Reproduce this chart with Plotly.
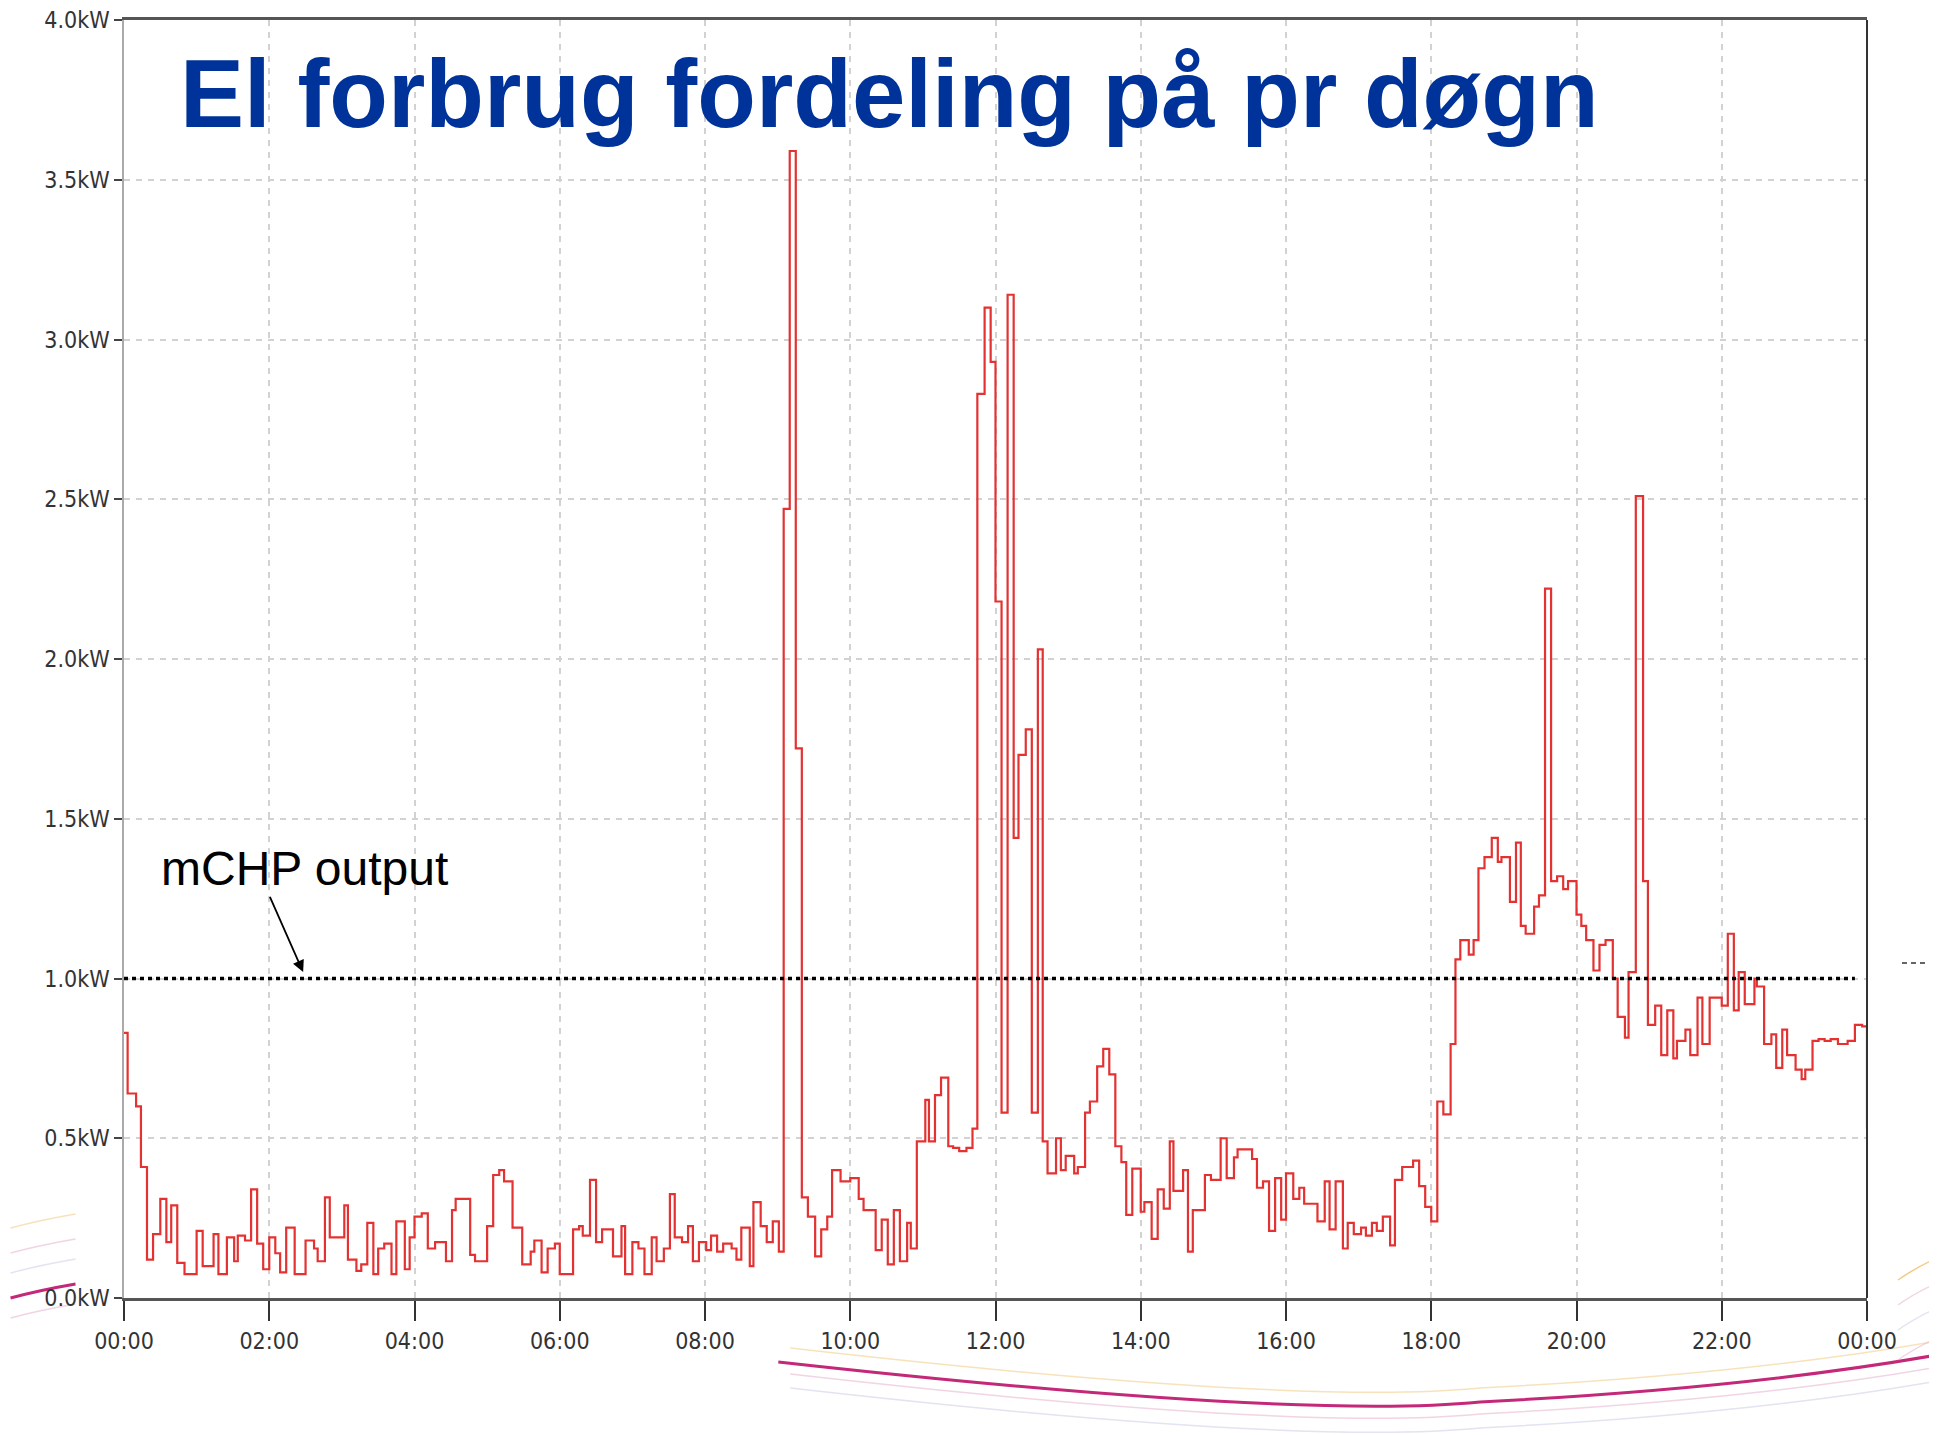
import pandas as pd
import plotly.graph_objects as go

# ---------------- data ----------------
# change points of the stepped consumption curve: minute of the day and kW
minutes = [
    0, 3, 10, 14, 19, 24, 30, 35, 39, 44, 50, 60, 65, 74, 78, 85, 91, 94, 100, 105,
    110, 115, 120, 125, 129, 134, 141, 150, 157, 160, 166, 170, 182, 185, 192, 196, 201, 206, 210, 215,
    221, 225, 232, 236, 240, 246, 251, 257, 266, 271, 274, 286, 290, 300, 305, 310, 314, 321, 329, 336,
    339, 345, 350, 356, 360, 371, 376, 379, 385, 390, 395, 404, 411, 414, 420, 425, 430, 436, 440, 446,
    451, 455, 461, 466, 470, 475, 481, 485, 490, 495, 502, 506, 510, 517, 520, 526, 531, 536, 541, 545,
    550, 555, 560, 565, 571, 576, 581, 585, 592, 600, 607, 611, 621, 626, 631, 636, 641, 647, 650, 655,
    662, 665, 670, 675, 681, 685, 690, 696, 701, 705, 711, 716, 720, 725, 730, 735, 739, 745, 750, 755,
    759, 763, 770, 774, 778, 785, 788, 794, 798, 804, 809, 814, 819, 824, 828, 833, 840, 843, 849, 854,
    859, 864, 867, 875, 879, 883, 893, 898, 906, 911, 917, 920, 932, 936, 941, 946, 951, 956, 960, 966,
    971, 975, 986, 992, 996, 1001, 1007, 1011, 1016, 1022, 1026, 1031, 1035, 1040, 1046, 1050, 1056, 1065, 1070, 1075,
    1080, 1085, 1090, 1096, 1100, 1104, 1111, 1115, 1119, 1124, 1130, 1135, 1138, 1145, 1150, 1154, 1158, 1165, 1169, 1174,
    1179, 1184, 1189, 1193, 1200, 1204, 1208, 1214, 1219, 1224, 1230, 1234, 1240, 1243, 1249, 1255, 1259, 1265, 1270, 1275,
    1280, 1283, 1290, 1294, 1300, 1304, 1310, 1320, 1325, 1330, 1334, 1339, 1347, 1349, 1355, 1361, 1365, 1370, 1374, 1381,
    1386, 1389, 1395, 1400, 1405, 1410, 1416, 1424, 1430, 1436, 1440,
]
kw = [
    0.83, 0.64, 0.60, 0.41, 0.12, 0.20, 0.31, 0.175, 0.29, 0.11, 0.075, 0.21, 0.10, 0.20, 0.075, 0.19, 0.115, 0.195, 0.18, 0.34,
    0.17, 0.09, 0.19, 0.14, 0.08, 0.22, 0.075, 0.18, 0.155, 0.115, 0.315, 0.19, 0.29, 0.12, 0.085, 0.105, 0.235, 0.075, 0.155, 0.17,
    0.075, 0.24, 0.09, 0.19, 0.255, 0.265, 0.155, 0.175, 0.115, 0.275, 0.31, 0.135, 0.115, 0.225, 0.385, 0.40, 0.365, 0.22, 0.105, 0.145,
    0.18, 0.08, 0.155, 0.17, 0.075, 0.215, 0.225, 0.195, 0.37, 0.175, 0.215, 0.13, 0.225, 0.075, 0.175, 0.155, 0.075, 0.19, 0.115, 0.155,
    0.325, 0.19, 0.175, 0.225, 0.115, 0.175, 0.15, 0.195, 0.145, 0.17, 0.155, 0.12, 0.22, 0.10, 0.30, 0.225, 0.175, 0.24, 0.145, 2.47,
    3.59, 1.72, 0.315, 0.255, 0.13, 0.215, 0.255, 0.40, 0.365, 0.375, 0.31, 0.275, 0.15, 0.245, 0.105, 0.275, 0.115, 0.235, 0.155, 0.49,
    0.62, 0.49, 0.635, 0.69, 0.475, 0.47, 0.46, 0.47, 0.53, 2.83, 3.10, 2.93, 2.18, 0.58, 3.14, 1.44, 1.70, 1.78, 0.58, 2.03,
    0.49, 0.39, 0.50, 0.40, 0.445, 0.39, 0.41, 0.58, 0.615, 0.725, 0.78, 0.70, 0.475, 0.425, 0.26, 0.405, 0.27, 0.30, 0.185, 0.34,
    0.28, 0.49, 0.335, 0.40, 0.145, 0.275, 0.385, 0.37, 0.50, 0.375, 0.44, 0.465, 0.435, 0.345, 0.365, 0.21, 0.375, 0.245, 0.39, 0.31,
    0.345, 0.295, 0.24, 0.365, 0.215, 0.365, 0.155, 0.235, 0.20, 0.22, 0.195, 0.235, 0.21, 0.255, 0.165, 0.37, 0.41, 0.43, 0.35, 0.285,
    0.24, 0.615, 0.575, 0.795, 1.06, 1.12, 1.075, 1.12, 1.345, 1.38, 1.44, 1.365, 1.38, 1.24, 1.425, 1.165, 1.14, 1.225, 1.26, 2.22,
    1.305, 1.32, 1.28, 1.305, 1.20, 1.165, 1.12, 1.025, 1.105, 1.12, 1.0, 0.88, 0.815, 1.02, 2.51, 1.305, 0.855, 0.915, 0.76, 0.90,
    0.75, 0.805, 0.84, 0.76, 0.94, 0.795, 0.94, 0.915, 1.14, 0.90, 1.02, 0.92, 1.0, 0.975, 0.795, 0.825, 0.72, 0.84, 0.76, 0.715,
    0.685, 0.715, 0.805, 0.81, 0.805, 0.81, 0.795, 0.805, 0.855, 0.85, 0.53,
]

# mCHP output level (kW) and the span it is drawn over (minutes)
mchp_minutes = [0, 1430]
mchp_kw = [1.0, 1.0]

y_tick_values = [0.0, 0.5, 1.0, 1.5, 2.0, 2.5, 3.0, 3.5, 4.0]
y_tick_labels = ["0.0kW", "0.5kW", "1.0kW", "1.5kW", "2.0kW", "2.5kW", "3.0kW", "3.5kW", "4.0kW"]

title_text = "El forbrug fordeling på pr døgn"
annot_text = "mCHP output"

# ---------------- figure ----------------
day0 = pd.Timestamp("2024-01-01 00:00")
x = [day0 + pd.Timedelta(minutes=m) for m in minutes]
x_mchp = [day0 + pd.Timedelta(minutes=m) for m in mchp_minutes]

# page body has an 8px margin: figure is sized so the plot lands where the reference has it
OFF = 8
W, H = 1929, 1427
PL, PR, PT, PB = 123.5, 1867, 20, 1298          # plot area in page pixels
ML, MR, MT, MB = PL - OFF, W + OFF - PR, PT - OFF, H + OFF - PB
PW, PH = PR - PL, PB - PT


def px(X):
    return (X - PL) / PW


def py(Y):
    return (PB - Y) / PH


fig = go.Figure()

fig.add_trace(go.Scatter(
    x=x, y=kw, mode="lines", line=dict(shape="hv", color="rgb(228,50,50)", width=2.2),
    showlegend=False, hoverinfo="skip",
))
fig.add_trace(go.Scatter(
    x=x_mchp, y=mchp_kw, mode="lines", line=dict(color="black", width=3.5, dash="4px,4px"),
    showlegend=False, hoverinfo="skip",
))

tick_font = dict(family="Liberation Sans Narrow, DejaVu Sans Condensed, Arial Narrow, sans-serif",
                 size=23, color="#333333")

fig.update_xaxes(
    type="date",
    range=[day0, day0 + pd.Timedelta(days=1)],
    dtick=2 * 3600 * 1000,
    tick0=day0,
    tickformat="%H:%M",
    ticks="outside", ticklen=20, tickwidth=2, tickcolor="#333333",
    tickfont=tick_font, ticklabeloverflow="allow",
    showline=True, linecolor="#555555", linewidth=3, mirror=True,
    showgrid=True, gridcolor="#d2d2d2", gridwidth=1.5, griddash="6px,6px",
    zeroline=False, automargin=False,
)
fig.update_yaxes(
    range=[0, 4],
    tickvals=y_tick_values, ticktext=y_tick_labels,
    ticks="outside", ticklen=8, tickwidth=2, tickcolor="#444444",
    tickfont=tick_font, ticklabeloverflow="allow",
    showline=True, linecolor="#aaaaaa", linewidth=1.5,
    showgrid=True, gridcolor="#d2d2d2", gridwidth=1.5, griddash="6px,6px",
    zeroline=False, automargin=False,
)

shapes = []
# right frame line
shapes.append(dict(type="line", xref="paper", yref="paper", x0=1, x1=1, y0=0, y1=1,
                   line=dict(color="#333333", width=2)))
# decorative swooshes of the slide background
shapes.append(dict(type="path", xref="paper", yref="paper", layer="below",
                   path=f"M {px(778)},{py(1362)} Q {px(1300)},{py(1420)} {px(1480)},{py(1402)} "
                        f"Q {px(1750)},{py(1388)} {px(1937)},{py(1355)}",
                   line=dict(color="rgb(196,40,120)", width=3)))
for dy, col in [(-14, "rgba(240,200,120,0.5)"), (12, "rgba(230,170,200,0.5)"), (26, "rgba(200,200,230,0.5)")]:
    shapes.append(dict(type="path", xref="paper", yref="paper", layer="below",
                       path=f"M {px(790)},{py(1362 + dy)} Q {px(1300)},{py(1420 + dy)} {px(1480)},{py(1402 + dy)} "
                            f"Q {px(1750)},{py(1388 + dy)} {px(1937)},{py(1355 + dy)}",
                       line=dict(color=col, width=1.5)))
shapes.append(dict(type="path", xref="paper", yref="paper", layer="below",
                   path=f"M {px(10)},{py(1298)} Q {px(40)},{py(1290)} {px(75)},{py(1284)}",
                   line=dict(color="rgb(196,40,120)", width=3)))
for dy, col in [(-70, "rgba(240,200,120,0.5)"), (-45, "rgba(230,170,200,0.5)"), (-25, "rgba(200,200,230,0.5)"), (20, "rgba(230,170,200,0.5)")]:
    shapes.append(dict(type="path", xref="paper", yref="paper", layer="below",
                       path=f"M {px(10)},{py(1298 + dy)} Q {px(40)},{py(1290 + dy)} {px(75)},{py(1284 + dy)}",
                       line=dict(color=col, width=1.5)))
for dy, col in [(0, "rgba(240,180,80,0.7)"), (25, "rgba(230,170,200,0.5)"), (50, "rgba(200,200,230,0.5)"), (80, "rgba(230,170,200,0.5)")]:
    shapes.append(dict(type="path", xref="paper", yref="paper", layer="below",
                       path=f"M {px(1898)},{py(1280 + dy)} Q {px(1915)},{py(1268 + dy)} {px(1937)},{py(1258 + dy)}",
                       line=dict(color=col, width=1.5)))
shapes.append(dict(type="line", xref="paper", yref="paper", x0=px(1902), x1=px(1935), y0=py(963), y1=py(963),
                   line=dict(color="#333333", width=1.5, dash="5px,4px")))

annotations = [
    dict(text=f"<b>{title_text}</b>", xref="paper", yref="paper", x=px(889), y=py(94),
         xanchor="center", yanchor="middle", showarrow=False,
         font=dict(family="Liberation Sans, Arial, sans-serif", size=96, color="#003399")),
    dict(text=annot_text, xref="paper", yref="paper", x=px(304), y=py(868),
         xanchor="center", yanchor="middle", showarrow=False,
         font=dict(family="Liberation Sans, Arial, sans-serif", size=48, color="black")),
    dict(text="", xref="x", yref="y", axref="x", ayref="y",
         x=day0 + pd.Timedelta(minutes=148), y=1.02,
         ax=day0 + pd.Timedelta(minutes=120), ay=1.26,
         showarrow=True, arrowhead=2, arrowsize=1.3, arrowwidth=1.8, arrowcolor="black"),
]

fig.update_layout(
    width=W, height=H,
    margin=dict(l=ML, r=MR, t=MT, b=MB, pad=0, autoexpand=False),
    paper_bgcolor="white", plot_bgcolor="white",
    shapes=shapes, annotations=annotations,
    showlegend=False,
)

fig.write_html("out.html")
